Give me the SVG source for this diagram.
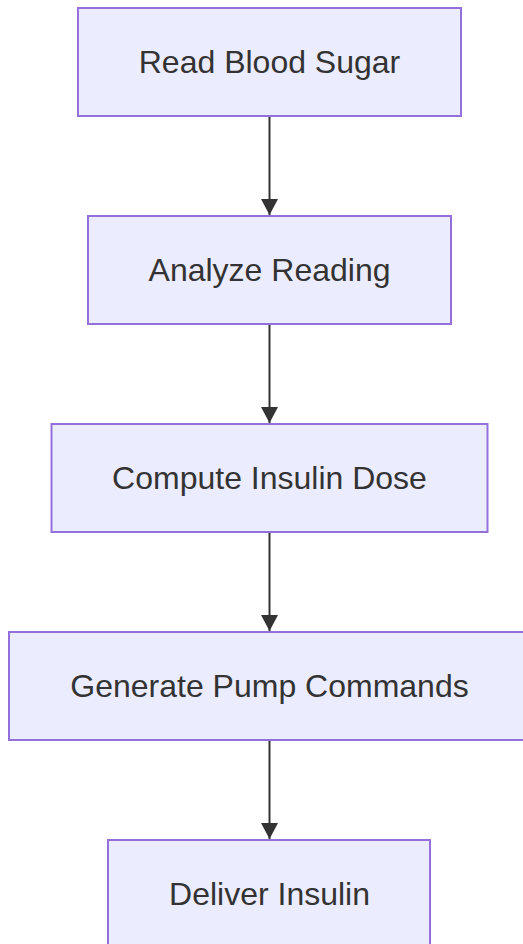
<svg xmlns="http://www.w3.org/2000/svg" width="523" height="944" viewBox="0 0 523 944">
  <style>
    .node rect { fill: #ECECFF; stroke: #9370DB; stroke-width: 2; }
    .node text { font-family: "Liberation Sans", Arial, Helvetica, sans-serif; font-size: 32px; fill: #333333; text-anchor: middle; }
    .edge { stroke: #333333; stroke-width: 2; fill: none; marker-end: url(#arrow); }
  </style>
  <defs>
    <marker id="arrow" markerUnits="userSpaceOnUse" markerWidth="17" markerHeight="17" refX="16" refY="8.5" orient="auto">
      <path d="M0,0 L16,8.5 L0,17 z" fill="#333333"/>
    </marker>
  </defs>
  <rect width="523" height="944" fill="#ffffff"/>

  <g id="connectors">
    <path class="edge" d="M269.5,117 L269.5,215"/>
    <path class="edge" d="M269.5,325 L269.5,423"/>
    <path class="edge" d="M269.5,533 L269.5,631"/>
    <path class="edge" d="M269.5,741 L269.5,839"/>
  </g>

  <g id="read-blood-sugar" class="node">
    <rect x="78" y="8" width="383" height="108"/>
    <text x="269.5" y="73">Read Blood Sugar</text>
  </g>
  <g id="analyze-reading" class="node">
    <rect x="88" y="216" width="363" height="108"/>
    <text x="269.5" y="281">Analyze Reading</text>
  </g>
  <g id="compute-insulin-dose" class="node">
    <rect x="51.5" y="424" width="436" height="108"/>
    <text x="269.5" y="489">Compute Insulin Dose</text>
  </g>
  <g id="generate-pump-commands" class="node">
    <rect x="9" y="632" width="521" height="108"/>
    <text x="269.5" y="697">Generate Pump Commands</text>
  </g>
  <g id="deliver-insulin" class="node">
    <rect x="108" y="840" width="322" height="108"/>
    <text x="269.5" y="905">Deliver Insulin</text>
  </g>
</svg>
